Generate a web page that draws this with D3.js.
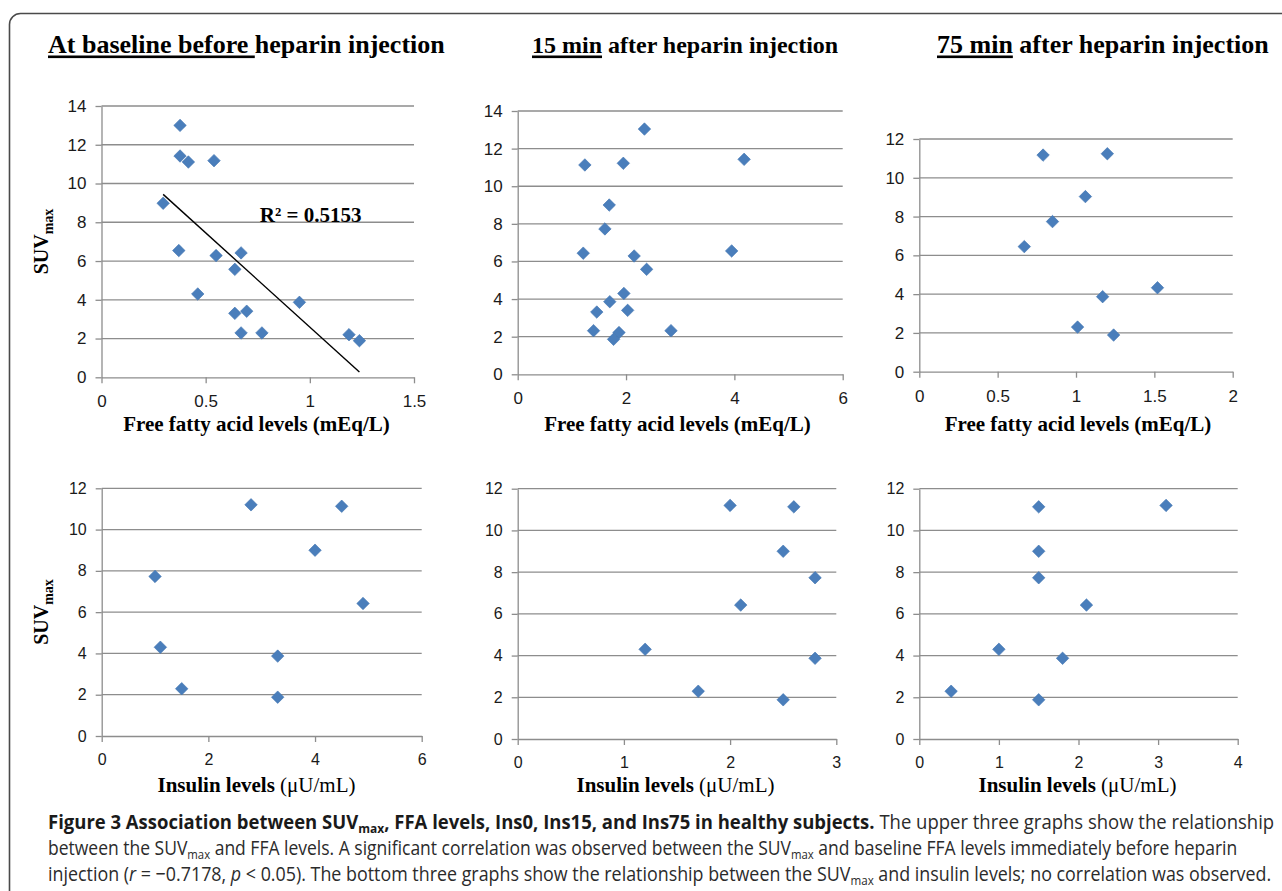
<!DOCTYPE html>
<html>
<head>
<meta charset="utf-8">
<script src="https://cdn.jsdelivr.net/npm/d3@7"></script>
<style>
  html, body { margin: 0; padding: 0; background: #fff; }
  svg { display: block; }
</style>
</head>
<body>
<script>
// ---------------- DATA ----------------
const ffa0  = [0.377, 0.377, 0.417, 0.54, 0.296, 0.371, 0.55, 0.67, 0.64, 0.462, 0.95, 0.64, 0.697, 0.67, 0.77, 1.188, 1.238];
const suv0  = [13.0, 11.42, 11.11, 11.18, 8.98, 6.54, 6.28, 6.42, 5.57, 4.30, 3.87, 3.30, 3.41, 2.29, 2.29, 2.20, 1.89];

const ffa15 = [2.34, 1.24, 1.95, 4.18, 1.69, 1.61, 1.21, 3.95, 2.15, 2.38, 1.96, 1.70, 1.46, 2.03, 1.40, 1.87, 1.77, 2.83];
const suv15 = [13.04, 11.13, 11.22, 11.43, 9.0, 7.73, 6.44, 6.56, 6.29, 5.58, 4.30, 3.86, 3.31, 3.40, 2.32, 2.22, 1.86, 2.32];

const ffa75 = [0.79, 1.20, 1.06, 0.85, 0.67, 1.52, 1.17, 1.01, 1.24];
const suv75 = [11.17, 11.24, 9.03, 7.74, 6.45, 4.33, 3.87, 2.30, 1.89];

const suvIns = [11.2, 11.13, 9.0, 7.73, 6.42, 4.3, 3.87, 2.29, 1.88];
const ins0   = [2.8, 4.5, 4.0, 1.0, 4.9, 1.1, 3.3, 1.5, 3.3];
const ins15  = [2.0, 2.6, 2.5, 2.8, 2.1, 1.2, 2.8, 1.7, 2.5];
const ins75  = [3.1, 1.5, 1.5, 1.5, 2.1, 1.0, 1.8, 0.4, 1.5];

// linear trend shown on the baseline FFA panel (slope, intercept) and its label
const trend0 = [-9.73, 12.32];
const trendLabel = "R\u00B2 = 0.5153";

// axis ticks
const xTicksFFA0  = [0, 0.5, 1, 1.5];
const xTicksFFA15 = [0, 2, 4, 6];
const xTicksFFA75 = [0, 0.5, 1, 1.5, 2];
const xTicksIns0  = [0, 2, 4, 6];
const xTicksIns15 = [0, 1, 2, 3];
const xTicksIns75 = [0, 1, 2, 3, 4];
const yTicks14 = [0, 2, 4, 6, 8, 10, 12, 14];
const yTicks12 = [0, 2, 4, 6, 8, 10, 12];

// titles
const titles = [
  { u: "At baseline before ", rest: "heparin injection" },
  { u: "15 min", rest: " after heparin injection" },
  { u: "75 min", rest: " after heparin injection" }
];

// ---------------- LAYOUT ----------------
const W = 1282, H = 891;
const svg = d3.select("body").append("svg").attr("width", W).attr("height", H);
svg.append("rect").attr("width", W).attr("height", H).attr("fill", "#fff");

// rounded frame
svg.append("rect").attr("x", 9.5).attr("y", 13.5).attr("width", 1300).attr("height", 920)
  .attr("rx", 11).attr("fill", "none").attr("stroke", "#4a4a4a").attr("stroke-width", 1.6);

const GRID = "#8d8d8d";
const BLUE = "#4a7ebb";

const panels = [
  { x0: 101.5, x1: 414,   y0: 377.3, y1: 106,   xt: xTicksFFA0,  yt: yTicks14, xs: ffa0,  ys: suv0,  lab: "ffa", lx: 256.5, ly: 431, ylab: 241.5, tickFs: 17, trend: true },
  { x0: 517.7, x1: 842.7, y0: 374.3, y1: 111,   xt: xTicksFFA15, yt: yTicks14, xs: ffa15, ys: suv15, lab: "ffa", lx: 677.5, ly: 431, tickFs: 17 },
  { x0: 919.3, x1: 1232.7,y0: 371.7, y1: 139,   xt: xTicksFFA75, yt: yTicks12, xs: ffa75, ys: suv75, lab: "ffa", lx: 1078, ly: 431, tickFs: 17 },
  { x0: 101.7, x1: 421.7, y0: 736,   y1: 488.3, xt: xTicksIns0,  yt: yTicks12, xs: ins0,  ys: suvIns, lab: "ins", lx: 256.5, ly: 791.5, ylab: 612, tickFs: 16 },
  { x0: 517.7, x1: 836.3, y0: 739,   y1: 488.7, xt: xTicksIns15, yt: yTicks12, xs: ins15, ys: suvIns, lab: "ins", lx: 675.5, ly: 791.5, tickFs: 16 },
  { x0: 919.3, x1: 1237.7,y0: 739,   y1: 488.7, xt: xTicksIns75, yt: yTicks12, xs: ins75, ys: suvIns, lab: "ins", lx: 1077.5, ly: 791.5, tickFs: 16 }
];

const fmt = d3.format("~g");
const diamond = d3.symbol().type(d3.symbolSquare).size(78);

panels.forEach(p => {
  const x = d3.scaleLinear().domain([0, d3.max(p.xt)]).range([p.x0, p.x1]);
  const y = d3.scaleLinear().domain([0, d3.max(p.yt)]).range([p.y0, p.y1]);
  const g = svg.append("g");

  // gridlines
  g.append("g").selectAll("line").data(p.yt.filter(v => v > 0)).join("line")
    .attr("x1", p.x0).attr("x2", p.x1)
    .attr("y1", d => y(d)).attr("y2", d => y(d))
    .attr("stroke", GRID).attr("stroke-width", 1.3);

  // x axis
  const xa = g.append("g").attr("transform", `translate(0,${p.y0})`)
    .call(d3.axisBottom(x).tickValues(p.xt).tickFormat(fmt).tickSize(6).tickSizeOuter(0).tickPadding(12));
  // y axis
  const ya = g.append("g").attr("transform", `translate(${p.x0},0)`)
    .call(d3.axisLeft(y).tickValues(p.yt).tickFormat(fmt).tickSize(6).tickSizeOuter(0).tickPadding(9));
  [xa, ya].forEach(a => {
    a.select(".domain").attr("stroke", GRID).attr("stroke-width", 1.3);
    a.selectAll(".tick line").attr("stroke", GRID).attr("stroke-width", 1.3);
    a.selectAll(".tick text").attr("fill", "#1a1a1a")
      .style("font-family", "'Liberation Sans', Arial, sans-serif").style("font-size", p.tickFs + "px");
  });

  // trend line
  if (p.trend) {
    const ext = d3.extent(p.xs);
    const f = v => trend0[0] * v + trend0[1];
    g.append("line")
      .attr("x1", x(ext[0])).attr("y1", y(f(ext[0])))
      .attr("x2", x(ext[1])).attr("y2", y(f(ext[1])))
      .attr("stroke", "#000").attr("stroke-width", 1.4);
  }

  // points
  g.append("g").selectAll("path").data(p.xs.map((v, i) => [v, p.ys[i]])).join("path")
    .attr("d", diamond)
    .attr("transform", d => `translate(${x(d[0])},${y(d[1])}) rotate(45)`)
    .attr("fill", BLUE).attr("stroke", "#4375b1").attr("stroke-width", 0.6);

  if (p.trend) {
    g.append("text").attr("x", x(0.76)).attr("y", 222)
      .style("font-family", "'Liberation Serif', 'Times New Roman', serif")
      .style("font-weight", "bold").style("font-size", "21px").attr("fill", "#000")
      .text(trendLabel);
  }

  // x axis title
  const xt = g.append("text").attr("x", p.lx).attr("y", p.ly).attr("text-anchor", "middle")
    .style("font-family", "'Liberation Serif', 'Times New Roman', serif").style("font-size", "21px").attr("fill", "#000");
  if (p.lab === "ffa") {
    xt.append("tspan").style("font-weight", "bold").text("Free fatty acid levels (mEq/L)");
  } else {
    xt.append("tspan").style("font-weight", "bold").text("Insulin levels ");
    xt.append("tspan").text("(\u03BCU/mL)");
  }

  // y axis title
  if (p.ylab) {
    const yt = g.append("text").attr("transform", `translate(48,${p.ylab}) rotate(-90)`)
      .attr("text-anchor", "middle")
      .style("font-family", "'Liberation Serif', 'Times New Roman', serif").style("font-weight", "bold").attr("fill", "#000");
    yt.append("tspan").style("font-size", "20px").text("SUV");
    yt.append("tspan").style("font-size", "14px").attr("dy", 5).text("max");
  }
});

// panel titles
const titleX = [48, 532, 937];
const titleFs = [26, 24, 26];
titles.forEach((t, i) => {
  const tx = svg.append("text").attr("x", titleX[i]).attr("y", 53)
    .style("font-family", "'Liberation Serif', 'Times New Roman', serif")
    .style("font-weight", "bold").style("font-size", titleFs[i] + "px").attr("fill", "#000");
  tx.append("tspan").text(t.u);
  tx.append("tspan").text(t.rest);
  const n = tx.node();
  const uw = n.getSubStringLength(0, t.u.length);
  svg.append("rect").attr("x", titleX[i]).attr("y", 55.5).attr("width", uw).attr("height", 2.6).attr("fill", "#000");
});

// caption
const capFont = "'Open Sans', 'Noto Sans', sans-serif";
const capLines = [
  { y: 829, w: 1227, parts: [
    { t: "Figure 3 Association between SUV", b: 1 }, { t: "max", b: 1, sub: 1 },
    { t: ", FFA levels, Ins0, Ins15, and Ins75 in healthy subjects.", b: 1 },
    { t: " The upper three graphs show the relationship" } ] },
  { y: 855, w: 1190, parts: [
    { t: "between the SUV" }, { t: "max", sub: 1 },
    { t: " and FFA levels. A significant correlation was observed between the SUV" }, { t: "max", sub: 1 },
    { t: " and baseline FFA levels immediately before heparin" } ] },
  { y: 881, w: 1224, parts: [
    { t: "injection (" }, { t: "r", i: 1 }, { t: " = \u22120.7178, " }, { t: "p", i: 1 },
    { t: " < 0.05). The bottom three graphs show the relationship between the SUV" }, { t: "max", sub: 1 },
    { t: " and insulin levels; no correlation was observed." } ] }
];
capLines.forEach(L => {
  const tx = svg.append("text").attr("x", 0).attr("y", 0)
    .style("font-family", capFont).style("font-size", "20px").attr("fill", "#2b2b2b");
  let shifted = false;
  L.parts.forEach(pt => {
    const ts = tx.append("tspan").text(pt.t);
    if (pt.b) ts.style("font-weight", "bold").attr("fill", "#1a1a1a");
    if (pt.i) ts.style("font-style", "italic");
    if (pt.sub) { ts.style("font-size", "13px").attr("dy", 4); shifted = true; }
    else if (shifted) { ts.attr("dy", -4); shifted = false; }
  });
  const w = tx.node().getComputedTextLength();
  tx.attr("transform", `translate(48,${L.y}) scale(${L.w / w},1)`);
});
</script>
</body>
</html>
